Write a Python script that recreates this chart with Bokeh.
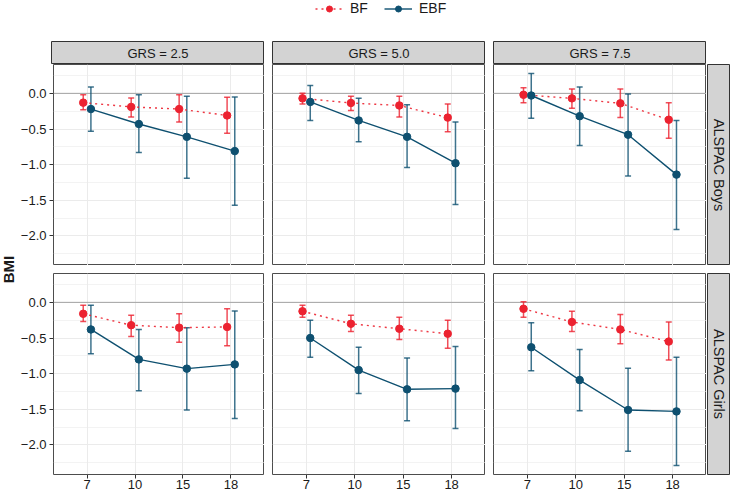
import math
from bokeh.plotting import figure
from bokeh.models import (ColumnDataSource, FactorRange, Range1d, FixedTicker, Whisker, TeeHead,
                          Span, Label, Legend, LegendItem, Spacer, CustomJSTickFormatter)
from bokeh.layouts import row, column
from bokeh.transform import dodge
from bokeh.embed import file_html
from bokeh.resources import INLINE

# ---------------- data ----------------
ages = ["7", "10", "15", "18"]
grs_labels = ["GRS = 2.5", "GRS = 5.0", "GRS = 7.5"]
cohorts = ["ALSPAC Boys", "ALSPAC Girls"]
series = ["BF", "EBF"]
y_ticks = [-2.0, -1.5, -1.0, -0.5, 0.0]
y_minor = [-2.25, -1.75, -1.25, -0.75, -0.25, 0.25]
ref_line = 0.0

# Boys: one list per GRS panel (2.5, 5.0, 7.5)
bf_boys_est = [[-0.13, -0.19, -0.22, -0.31], [-0.07, -0.135, -0.17, -0.34], [-0.02, -0.07, -0.14, -0.37]]
bf_boys_lo = [[-0.23, -0.33, -0.40, -0.56], [-0.15, -0.24, -0.33, -0.54], [-0.13, -0.21, -0.34, -0.63]]
bf_boys_hi = [[-0.02, -0.065, -0.02, -0.055], [0.0, -0.04, -0.04, -0.15], [0.08, 0.06, 0.06, -0.13]]
ebf_boys_est = [[-0.22, -0.43, -0.61, -0.81], [-0.12, -0.38, -0.61, -0.98], [-0.03, -0.32, -0.58, -1.14]]
ebf_boys_lo = [[-0.53, -0.83, -1.19, -1.57], [-0.38, -0.68, -1.04, -1.56], [-0.35, -0.73, -1.16, -1.91]]
ebf_boys_hi = [[0.09, -0.02, -0.04, -0.05], [0.11, -0.07, -0.16, -0.40], [0.28, 0.09, -0.01, -0.38]]

# Girls
bf_girls_est = [[-0.16, -0.32, -0.355, -0.345], [-0.125, -0.30, -0.37, -0.44], [-0.09, -0.275, -0.38, -0.55]]
bf_girls_lo = [[-0.27, -0.48, -0.56, -0.61], [-0.21, -0.41, -0.52, -0.645], [-0.21, -0.41, -0.58, -0.81]]
bf_girls_hi = [[-0.04, -0.18, -0.16, -0.09], [-0.04, -0.18, -0.21, -0.25], [0.01, -0.125, -0.17, -0.275]]
ebf_girls_est = [[-0.38, -0.80, -0.93, -0.87], [-0.50, -0.95, -1.22, -1.21], [-0.63, -1.09, -1.51, -1.53]]
ebf_girls_lo = [[-0.72, -1.24, -1.51, -1.63], [-0.77, -1.28, -1.66, -1.77], [-0.96, -1.52, -2.09, -2.29]]
ebf_girls_hi = [[-0.04, -0.38, -0.355, -0.12], [-0.25, -0.63, -0.78, -0.62], [-0.285, -0.66, -0.925, -0.77]]

data = {
    ("ALSPAC Boys", "BF"): (bf_boys_est, bf_boys_lo, bf_boys_hi),
    ("ALSPAC Boys", "EBF"): (ebf_boys_est, ebf_boys_lo, ebf_boys_hi),
    ("ALSPAC Girls", "BF"): (bf_girls_est, bf_girls_lo, bf_girls_hi),
    ("ALSPAC Girls", "EBF"): (ebf_girls_est, ebf_girls_lo, ebf_girls_hi),
}

# ---------------- style ----------------
FONT = "Liberation Sans"
TXT = "#1A1A1A"
COL = {"BF": "#EC2230", "EBF": "#0E5070"}
DASH = {"BF": "2 4", "EBF": "solid"}
LW = {"BF": 1.4, "EBF": 1.4}
LALPHA = {"BF": 0.9, "EBF": 1.0}
DODGE = {"BF": -0.08, "EBF": 0.08}
GRID = "#EBEBEB"
BORDER = "#4D4D4D"
STRIP_FILL = "#D3D3D3"

FW, FH = 213, 201
LEFT_AX = 34
BOT_AX = 20
GAP = 8
RGAP = 1
RSTRIP = 23
BMI_W = 17
STRIP_H = 23
ROW_GAP = 8
LEG_H = 41

yfmt = CustomJSTickFormatter(code="return tick.toFixed(1).replace('-', '\u2212');")


def make_panel(ci, gi):
    cohort = cohorts[ci]
    left = gi == 0
    bottom = ci == len(cohorts) - 1
    bl = LEFT_AX if left else GAP
    bb = BOT_AX if bottom else 0
    p = figure(x_range=FactorRange(factors=ages, range_padding=0.2, range_padding_units="absolute"),
               y_range=Range1d(-2.415, 0.405),
               width=FW + bl, height=FH + bb,
               output_backend="svg", toolbar_location=None, title=None,
               x_axis_location="below" if bottom else None,
               y_axis_location="left" if left else None,
               min_border_left=bl, min_border_right=0,
               min_border_top=0, min_border_bottom=bb)
    p.background_fill_color = "white"
    p.border_fill_color = "white"
    p.outline_line_color = BORDER
    p.outline_line_width = 1

    yt = FixedTicker(ticks=y_ticks, minor_ticks=y_minor)
    for g in p.ygrid:
        g.ticker = yt
        g.grid_line_color = GRID
        g.grid_line_width = 1
        g.minor_grid_line_color = GRID
        g.minor_grid_line_width = 0.6
    for g in p.xgrid:
        g.grid_line_color = GRID
        g.grid_line_width = 1

    for ax in p.yaxis:
        ax.ticker = yt
        ax.formatter = yfmt
        ax.major_label_standoff = 3
    for ax in p.xaxis:
        ax.major_label_standoff = 1
    for ax in list(p.xaxis) + list(p.yaxis):
        ax.axis_line_color = None
        ax.major_tick_in = 0
        ax.major_tick_out = 4
        ax.minor_tick_in = 0
        ax.minor_tick_out = 0
        ax.major_tick_line_color = "#333333"
        ax.major_label_text_font = FONT
        ax.major_label_text_font_size = "13px"
        ax.major_label_text_color = TXT

    p.add_layout(Span(location=ref_line, dimension="width", line_color="#A3A3A3",
                      line_width=1, level="underlay"))

    for s in series:
        est, lo, hi = data[(cohort, s)]
        src = ColumnDataSource(data=dict(age=ages, est=est[gi], lo=lo[gi], hi=hi[gi]))
        xs = dodge("age", DODGE[s], range=p.x_range)
        w = Whisker(source=src, base=xs, upper="hi", lower="lo",
                    line_color=COL[s], line_width=1.5, line_alpha=0.8,
                    upper_head=TeeHead(size=6, line_color=COL[s], line_width=1.5, line_alpha=0.8),
                    lower_head=TeeHead(size=6, line_color=COL[s], line_width=1.5, line_alpha=0.8))
        p.add_layout(w)
        p.line(x=xs, y="est", source=src, line_color=COL[s], line_width=LW[s],
               line_dash=DASH[s], line_alpha=LALPHA[s])
        p.scatter(x=xs, y="est", source=src, size=7.5, fill_color=COL[s], line_color=COL[s])
    return p


def make_strip(text, fw, fh, left_border, bottom_border=0, angle=0.0, size="13px"):
    s = figure(width=fw + left_border, height=fh + bottom_border,
               x_range=Range1d(0, 1), y_range=Range1d(0, 1),
               x_axis_location=None, y_axis_location=None, output_backend="svg",
               toolbar_location=None, title=None,
               min_border_left=left_border, min_border_right=0, min_border_top=0,
               min_border_bottom=bottom_border)
    s.grid.visible = False
    s.background_fill_color = STRIP_FILL
    s.border_fill_color = "white"
    s.outline_line_color = "#333333"
    s.outline_line_width = 1
    s.add_layout(Label(x=0.5, y=0.5, text=text, text_align="center", text_baseline="middle",
                       angle=angle, text_font=FONT, text_font_size=size, text_color=TXT))
    return s


# ---------------- legend ----------------
TOTAL_W = BMI_W + LEFT_AX + 3 * FW + 2 * GAP + RGAP + RSTRIP
lf = figure(width=TOTAL_W, height=LEG_H, x_range=Range1d(10, 11), y_range=Range1d(10, 11),
            x_axis_location=None, y_axis_location=None, output_backend="svg",
            toolbar_location=None, title=None, min_border=0)
lf.grid.visible = False
lf.outline_line_color = None
items = []
for s in series:
    est0 = data[(cohorts[0], s)][0][0][0]
    key_src = ColumnDataSource(data=dict(x=[est0], y=[est0]))  # lies outside this strip's ranges
    rl = lf.line("x", "y", source=key_src, line_color=COL[s], line_width=LW[s],
                 line_dash=DASH[s], line_alpha=LALPHA[s])
    rp = lf.scatter("x", "y", source=key_src, size=7.5, fill_color=COL[s], line_color=COL[s])
    items.append(LegendItem(label=s, renderers=[rl, rp]))
legend = Legend(items=items, orientation="horizontal", location=(315, LEG_H - 16),
                background_fill_alpha=0, border_line_color=None, padding=0, margin=0,
                spacing=14, label_standoff=7, glyph_width=28, glyph_height=15, label_height=15,
                label_text_font=FONT, label_text_font_size="14px", label_text_color=TXT)
lf.add_layout(legend)

# ---------------- BMI axis title ----------------
main_h = STRIP_H + FH + ROW_GAP + FH + BOT_AX
bmi = figure(width=BMI_W, height=main_h, x_range=Range1d(0, 1), y_range=Range1d(0, 1),
             x_axis_location=None, y_axis_location=None, output_backend="svg",
             toolbar_location=None, title=None, min_border=0)
bmi.grid.visible = False
bmi.outline_line_color = None
mid = 1 - (STRIP_H + (FH + ROW_GAP + FH) / 2) / main_h
bmi.add_layout(Label(x=0.45, y=mid, text="BMI", text_align="center", text_baseline="middle",
                     angle=math.pi / 2, text_font=FONT, text_font_size="15px",
                     text_font_style="bold", text_color=TXT))

# ---------------- grid of panels ----------------
strip_row = row([Spacer(width=LEFT_AX, height=STRIP_H)] +
                [make_strip(grs_labels[g], FW, STRIP_H, 0 if g == 0 else GAP) for g in range(3)] +
                [Spacer(width=RGAP + RSTRIP, height=STRIP_H)])
rows = [strip_row]
for ci, coh in enumerate(cohorts):
    bottom = ci == len(cohorts) - 1
    panels = [make_panel(ci, g) for g in range(3)]
    rs = make_strip(coh, RSTRIP, FH, RGAP, BOT_AX if bottom else 0, angle=-math.pi / 2,
                    size="14.5px")
    rows.append(row(panels + [rs]))
    if not bottom:
        rows.append(Spacer(width=10, height=ROW_GAP))

body = row([bmi, column(rows)])
layout = column([lf, body])

open("out.html", "w").write(file_html(layout, INLINE))
